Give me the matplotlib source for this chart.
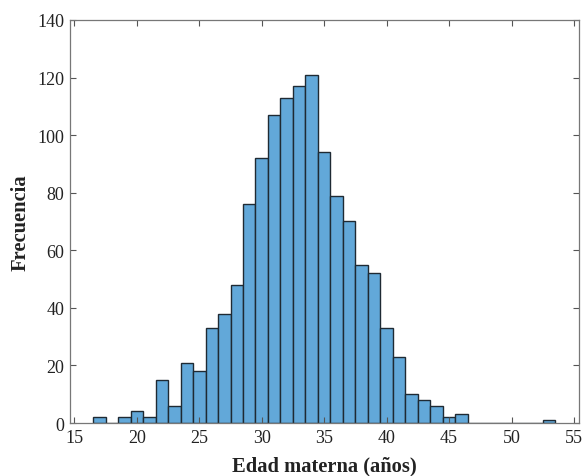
import numpy as np
import matplotlib
matplotlib.use('Agg')
import matplotlib.pyplot as plt

plt.rcParams['font.family'] = ['Liberation Serif', 'DejaVu Serif']

# bin centres (years) and counts per 1-year bin
edad = list(range(17, 54))
frecuencia = [2, 0, 2, 4, 2, 15, 6, 21, 18, 33, 38, 48, 76, 92, 107, 113, 117, 121,
              94, 79, 70, 55, 52, 33, 23, 10, 8, 6, 2, 3, 0, 0, 0, 0, 0, 0, 1]
xticks = [15, 20, 25, 30, 35, 40, 45, 50, 55]
yticks = [0, 20, 40, 60, 80, 100, 120, 140]

fig = plt.figure(figsize=(5.84, 4.77), dpi=100)
ax = fig.add_axes([0.1199, 0.1111, 0.8715, 0.8449])

ax.bar(edad, frecuencia, width=1.0, color='#62a8d9', edgecolor='#1f2a33', linewidth=1.0)

ax.set_xlim(14.65, 55.4)
ax.set_ylim(0, 140)
ax.set_xticks(xticks)
ax.set_yticks(yticks)
ax.tick_params(direction='in', top=True, right=True, length=4, width=0.8,
               color='#555555', labelsize=13, labelcolor='#222222', pad=4)
for s in ax.spines.values():
    s.set_color('#777777')
    s.set_linewidth(0.9)

ax.set_xlabel('Edad materna (años)', fontsize=14.8, fontweight='bold', color='#222222', labelpad=7)
ax.set_ylabel('Frecuencia', fontsize=14.8, fontweight='bold', color='#222222', labelpad=5)

fig.savefig('out.png', dpi=100)
